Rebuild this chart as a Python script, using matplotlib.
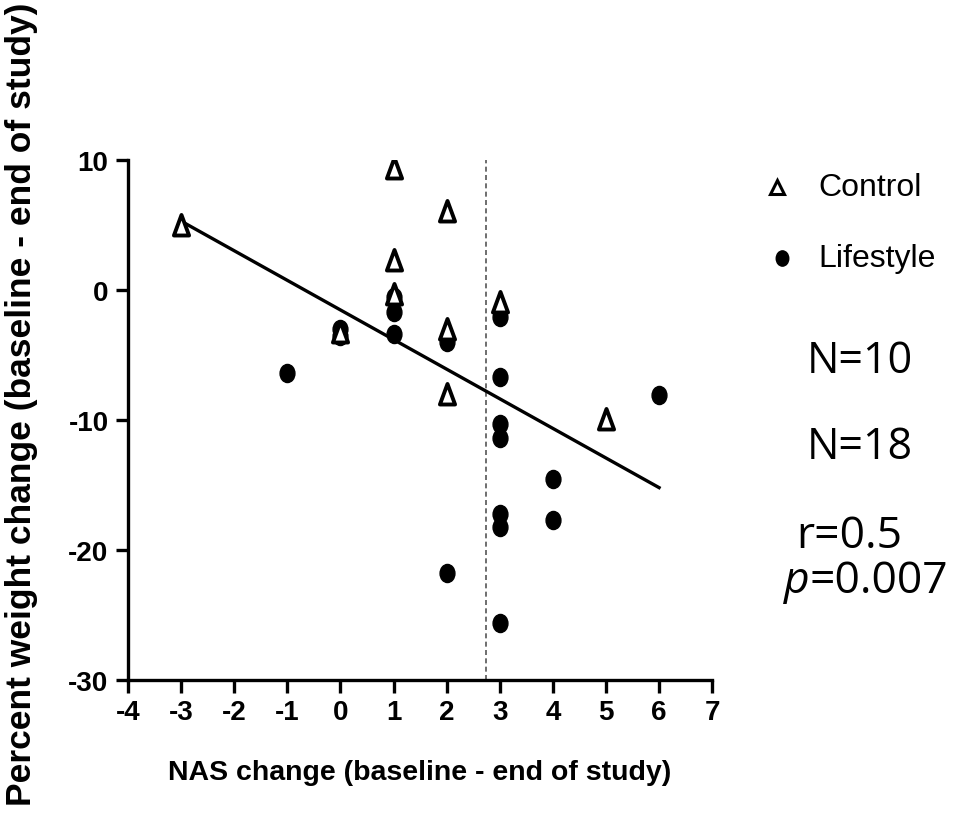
import matplotlib
matplotlib.use("Agg")
import matplotlib.pyplot as plt
from matplotlib.path import Path
from matplotlib.transforms import Affine2D

# Data
control_x = [-3, 1, 2, 1, 1, 0, 2, 2, 3, 5]
control_y = [5.0, 9.4, 6.1, 2.3, -0.3, -3.2, -3.0, -8.0, -0.9, -9.9]

lifestyle_x = [-1, 0, 0, 1, 1, 1, 2, 2, 3, 3, 3, 3, 3, 3, 3, 4, 4, 6]
lifestyle_y = [-6.4, -3.0, -3.5, -0.5, -1.7, -3.4, -4.0, -21.8, -2.1, -6.7,
               -10.3, -11.4, -17.2, -18.2, -25.6, -14.5, -17.7, -8.1]

fit_x = [-3, 6]
fit_y = [5.3, -15.2]

cutoff_x = 2.75

x_ticks = [-4, -3, -2, -1, 0, 1, 2, 3, 4, 5, 6, 7]
y_ticks = [-30, -20, -10, 0, 10]

stats_texts = ["N=10", "N=18", "r=0.5", "p", "=0.007"]

tri_marker = Path([(-0.72, -0.95), (0.72, -0.95), (0.0, 1.0), (-0.72, -0.95)],
                  [Path.MOVETO, Path.LINETO, Path.LINETO, Path.CLOSEPOLY])
dot_marker = Path.unit_circle().transformed(Affine2D().scale(0.82, 1.0))

fig = plt.figure(figsize=(9.65, 8.29), dpi=100)
ax = fig.add_axes([0.1326, 0.1785, 0.6054, 0.6273])

ax.plot(fit_x, fit_y, color="black", lw=2.4, zorder=2)
ax.axvline(cutoff_x, color="#555555", lw=1.2, ls=(0, (3, 2)), zorder=1)

ax.scatter(lifestyle_x, lifestyle_y, marker=dot_marker, s=170, color="black",
           zorder=3)
ax.scatter(control_x, control_y, marker=tri_marker, s=230, facecolor="white",
           edgecolor="black", linewidths=2.8, zorder=4)

ax.set_xlim(-4, 7)
ax.set_ylim(-30, 10)
ax.set_xticks(x_ticks)
ax.set_yticks(y_ticks)

tick_font = dict(family="Liberation Sans", weight="bold", size=20)
ax.set_xticklabels([str(t) for t in x_ticks], fontdict=tick_font)
ax.set_yticklabels([str(t) for t in y_ticks], fontdict=tick_font)

for side in ["top", "right"]:
    ax.spines[side].set_visible(False)
for side in ["left", "bottom"]:
    ax.spines[side].set_linewidth(2.4)
ax.tick_params(axis="both", direction="out", length=9, width=2.4, pad=5)

ax.set_xlabel("NAS change (baseline - end of study)", family="Liberation Sans",
              weight="bold", size=20.5, labelpad=24)
fig.text(0.022, 0.512, "Percent weight change (baseline - end of study)",
         family="Liberation Sans", weight="bold", size=25.5, rotation=90,
         ha="center", va="center")

# Legend (manual, placed in figure coordinates)
fig.lines.append(plt.Line2D([777 / 965], [1 - 188 / 829], marker="^",
                            markersize=10, markerfacecolor="white",
                            markeredgecolor="black", markeredgewidth=2.2,
                            ls="none", transform=fig.transFigure))
fig.lines.append(plt.Line2D([782 / 965], [1 - 259 / 829], marker=dot_marker,
                            markersize=11, color="black", ls="none",
                            transform=fig.transFigure))
fig.text(818 / 965, 1 - 188 / 829, "Control", family="Liberation Sans",
         size=23, va="center", ha="left")
fig.text(818 / 965, 1 - 259 / 829, "Lifestyle", family="Liberation Sans",
         size=23, va="center", ha="left")

stat_font = dict(family="Open Sans", size=31)
fig.text(807 / 965, 1 - 362 / 829, stats_texts[0], va="center", ha="left", **stat_font)
fig.text(807 / 965, 1 - 448 / 829, stats_texts[1], va="center", ha="left", **stat_font)
fig.text(796 / 965, 1 - 537 / 829, stats_texts[2], va="center", ha="left",
         family="Open Sans", size=32)
fig.text(784 / 965, 1 - 582 / 829, stats_texts[3], va="center", ha="left",
         family="Open Sans", style="italic", size=32)
fig.text(810 / 965, 1 - 582 / 829, stats_texts[4], va="center", ha="left",
         family="Open Sans", size=32)

fig.savefig("out.png", dpi=100)
